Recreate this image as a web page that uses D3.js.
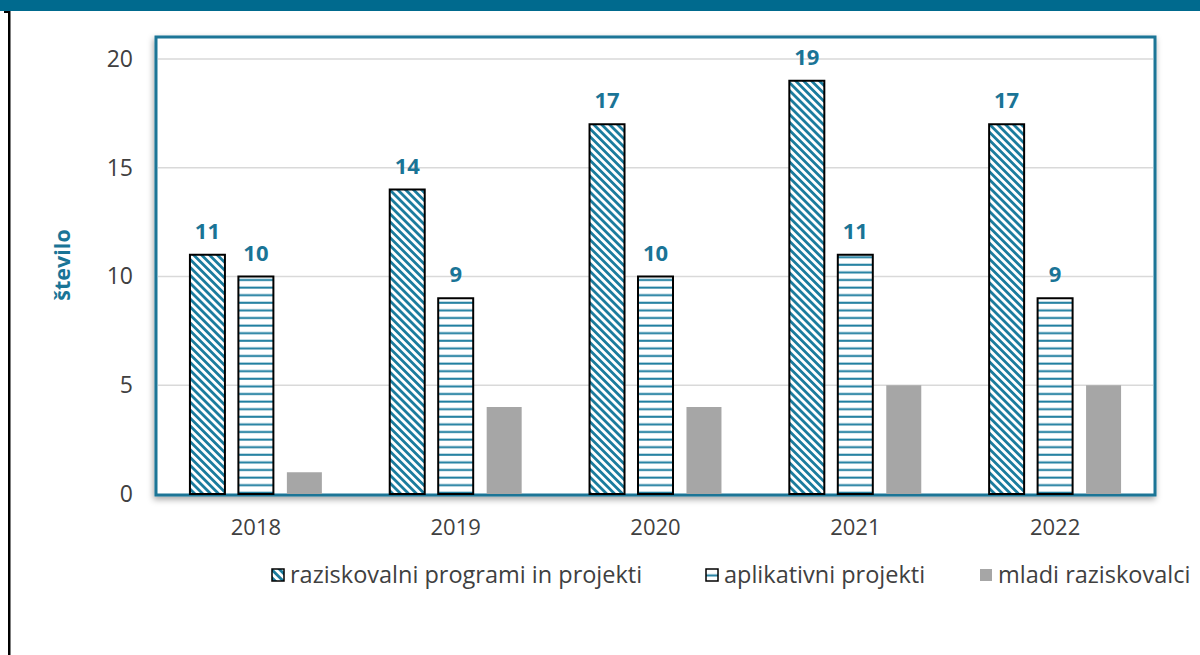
<!DOCTYPE html>
<html lang="sl">
<head>
<meta charset="UTF-8">
<title>število</title>
<script src="https://cdn.jsdelivr.net/npm/d3@7"></script>
<style>
html,body {margin:0;padding:0;background:#fff;}
svg {display:block;font-family:"Open Sans", sans-serif;}
</style>
</head>
<body>
<div id="chart"></div>
<script>
// podatki
const years = ['2018', '2019', '2020', '2021', '2022'];
const seriesNames = ['raziskovalni programi in projekti', 'aplikativni projekti', 'mladi raziskovalci'];
const programi = [11, 14, 17, 19, 17];
const aplikativni = [10, 9, 10, 11, 9];
const mladi = [1, 4, 4, 5, 5];
const yTicks = [0, 5, 10, 15, 20];

const W = 1200, H = 655;
const teal = '#1a7496';
const stripe = '#1b7c9e';

const svg = d3.select('#chart').append('svg')
	.attr('width', W)
	.attr('height', H);

const defs = svg.append('defs');

// vzorci
let pDiag = defs.append('pattern')
	.attr('id', 'diag')
	.attr('patternUnits', 'userSpaceOnUse')
	.attr('width', 5.6).attr('height', 5.6)
	.attr('patternTransform', 'rotate(-45)');
pDiag.append('rect').attr('width', 5.6).attr('height', 5.6).attr('fill', '#fff');
pDiag.append('rect').attr('width', 2.8).attr('height', 5.6).attr('fill', stripe);

let pHor = defs.append('pattern')
	.attr('id', 'hor')
	.attr('patternUnits', 'userSpaceOnUse')
	.attr('width', 8).attr('height', 7.6);
pHor.append('rect').attr('width', 8).attr('height', 7.6).attr('fill', '#fff');
pHor.append('rect').attr('y', 5.4).attr('width', 8).attr('height', 2).attr('fill', stripe);

let shadow = defs.append('filter').attr('id', 'shadow')
	.attr('x', '-5%').attr('y', '-5%').attr('width', '110%').attr('height', '115%');
shadow.append('feDropShadow')
	.attr('dx', -1).attr('dy', 3).attr('stdDeviation', 3)
	.attr('flood-color', '#000').attr('flood-opacity', 0.35);

const fills = ['url(#diag)', 'url(#hor)', '#a6a6a6'];
const strokes = ['#000', '#000', 'none'];

// glava (odrezan naslov)
svg.append('rect').attr('x', 0).attr('y', 0).attr('width', W).attr('height', 11).attr('fill', '#006a8e');
svg.append('rect').attr('x', 8).attr('y', 11).attr('width', 2.5).attr('height', H - 11).attr('fill', '#000');
svg.append('rect').attr('x', 4).attr('y', 11).attr('width', 6).attr('height', 2).attr('fill', '#000');

const plot = {left: 156, right: 1155, top: 37, bottom: 495};

const x = d3.scaleBand().domain(years).range([plot.left, plot.right]);
const xInner = d3.scaleBand().domain(seriesNames).range([0, x.bandwidth()])
	.paddingInner(0.278).paddingOuter(0.7);
const y = d3.scaleLinear().domain([0, 20]).range([494, 59]);

// okvir
svg.append('rect')
	.attr('x', plot.left).attr('y', plot.top)
	.attr('width', plot.right - plot.left).attr('height', plot.bottom - plot.top)
	.attr('fill', '#fff')
	.attr('stroke', teal).attr('stroke-width', 3)
	.attr('filter', 'url(#shadow)');

// mreža
svg.append('g').selectAll('line').data(yTicks.filter(d => d > 0)).join('line')
	.attr('x1', plot.left + 2).attr('x2', plot.right - 2)
	.attr('y1', d => y(d)).attr('y2', d => y(d))
	.attr('stroke', '#d9d9d9').attr('stroke-width', 1.5);

// os y
const yAxis = d3.axisLeft(y).tickValues(yTicks).tickSize(0).tickPadding(0);
svg.append('g')
	.attr('transform', 'translate(133,0)')
	.call(yAxis)
	.call(g => g.select('.domain').remove())
	.selectAll('text')
	.attr('font-size', 23).attr('fill', '#404040')
	.attr('font-family', '"Open Sans", sans-serif');

// os x
const xAxis = d3.axisBottom(x).tickSize(0).tickPadding(0);
svg.append('g')
	.attr('transform', 'translate(0,519)')
	.call(xAxis)
	.call(g => g.select('.domain').remove())
	.selectAll('text')
	.attr('font-size', 22).attr('fill', '#404040')
	.attr('font-family', '"Open Sans", sans-serif');

svg.append('text')
	.attr('transform', 'translate(70,265) rotate(-90)')
	.attr('text-anchor', 'middle')
	.attr('font-size', 21.5).attr('font-weight', 'bold')
	.attr('fill', teal)
	.text('število');

// stolpci
const series = [programi, aplikativni, mladi];
series.forEach(function (vals, s) {
	const g = svg.append('g');
	g.selectAll('rect').data(vals).join('rect')
		.attr('x', (d, i) => x(years[i]) + xInner(seriesNames[s]))
		.attr('y', d => y(d))
		.attr('width', xInner.bandwidth())
		.attr('height', d => y(0) - y(d))
		.attr('fill', fills[s])
		.attr('stroke', strokes[s])
		.attr('stroke-width', 2);
	if (s < 2) {
		g.selectAll('text').data(vals).join('text')
			.attr('x', (d, i) => x(years[i]) + xInner(seriesNames[s]) + xInner.bandwidth() / 2)
			.attr('y', d => y(d) - 16)
			.attr('text-anchor', 'middle')
			.attr('font-size', 22).attr('font-weight', 'bold')
			.attr('fill', teal)
			.text(d => d);
	}
});

// legenda
const legendX = [272, 706, 980];
const legend = svg.append('g').attr('transform', 'translate(0,569)');
seriesNames.forEach(function (name, s) {
	legend.append('rect')
		.attr('x', legendX[s]).attr('y', 0)
		.attr('width', 12).attr('height', 12)
		.attr('fill', fills[s])
		.attr('stroke', strokes[s]).attr('stroke-width', 1.5);
	legend.append('text')
		.attr('x', legendX[s] + 18).attr('y', 14)
		.attr('font-size', 23.5).attr('fill', '#404040')
		.text(name);
});
</script>
</body>
</html>
